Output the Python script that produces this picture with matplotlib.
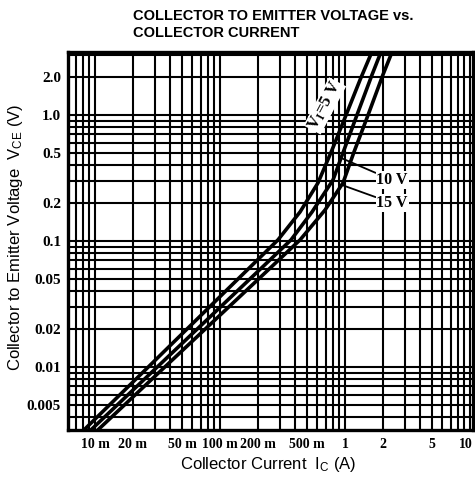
import matplotlib
matplotlib.use("Agg")
import matplotlib.pyplot as plt
from matplotlib.ticker import LogLocator, NullFormatter, FixedLocator, FixedFormatter
from matplotlib.transforms import ScaledTranslation

plt.rcParams['mathtext.fontset'] = 'custom'
plt.rcParams['mathtext.rm'] = 'Liberation Sans'
plt.rcParams['mathtext.it'] = 'Liberation Sans'
plt.rcParams['mathtext.bf'] = 'Liberation Serif:bold'

# ---- data ----
ic_5v = [0.00745, 0.00847, 0.0267, 0.1419, 0.291, 0.437, 0.608, 0.787, 1.02, 1.32, 1.64, 1.74]
vce_5v = [0.00289, 0.00328, 0.010, 0.0508, 0.102, 0.170, 0.289, 0.527, 1.0, 1.90, 3.16, 3.59]

ic_10v = [0.00841, 0.00964, 0.0315, 0.1767, 0.370, 0.545, 0.802, 0.982, 1.247, 1.644, 1.94, 2.05]
vce_10v = [0.00289, 0.00328, 0.010, 0.0508, 0.102, 0.170, 0.305, 0.527, 1.0, 2.08, 3.16, 3.59]

ic_15v = [0.00957, 0.01096, 0.0362, 0.2074, 0.437, 0.692, 0.964, 1.18, 1.53, 2.01, 2.38, 2.51]
vce_15v = [0.00289, 0.00328, 0.010, 0.0508, 0.102, 0.176, 0.289, 0.508, 1.0, 2.08, 3.16, 3.59]

x_ticks = [0.01, 0.02, 0.05, 0.1, 0.2, 0.5, 1, 2, 5, 10]
x_tick_labels = ["10 m", "20 m", "50 m", "100 m", "200 m", "500 m", "1", "2", "5", "10"]
y_ticks = [0.005, 0.01, 0.02, 0.05, 0.1, 0.2, 0.5, 1.0, 2.0]
y_tick_labels = ["0.005", "0.01", "0.02", "0.05", "0.1", "0.2", "0.5", "1.0", "2.0"]

title_lines = "COLLECTOR TO EMITTER VOLTAGE vs.\nCOLLECTOR CURRENT"

# ---- figure ----
fig = plt.figure(figsize=(4.75, 4.78), dpi=100)
ax = fig.add_axes([68/475, 48/478, 405/475, 378/478])
ax.set_xscale('log')
ax.set_yscale('log')
ax.set_xlim(0.00608, 10.57)
ax.set_ylim(0.00316, 3.16)

ax.xaxis.set_major_locator(FixedLocator(x_ticks))
ax.xaxis.set_major_formatter(FixedFormatter(x_tick_labels))
ax.yaxis.set_major_locator(FixedLocator(y_ticks))
ax.yaxis.set_major_formatter(FixedFormatter(y_tick_labels))
ax.xaxis.set_minor_locator(LogLocator(base=10, subs='all', numticks=50))
ax.yaxis.set_minor_locator(LogLocator(base=10, subs='all', numticks=50))
ax.xaxis.set_minor_formatter(NullFormatter())
ax.yaxis.set_minor_formatter(NullFormatter())

ax.grid(which='both', color='black', linewidth=1.5)
ax.set_axisbelow(True)
ax.tick_params(which='both', length=0)
ax.tick_params(axis='y', pad=5)
ax.tick_params(axis='x', pad=6)
for lab in ax.get_yticklabels():
    lab.set_fontfamily('Liberation Serif')
    lab.set_fontweight('bold')
    lab.set_fontsize(11)
xlabs = ax.get_xticklabels()
for lab in xlabs:
    lab.set_fontfamily('Liberation Serif')
    lab.set_fontweight('bold')
    lab.set_fontsize(10)
# last label sits at the right edge: keep it inside the figure
xlabs[-1].set_horizontalalignment('right')
xlabs[-1].set_transform(xlabs[-1].get_transform() + ScaledTranslation(3/100, 0, fig.dpi_scale_trans))

for s in ax.spines.values():
    s.set_linewidth(2.4)
    s.set_color('black')

for ic, v in [(ic_5v, vce_5v), (ic_10v, vce_10v), (ic_15v, vce_15v)]:
    ax.plot(ic, v, color='black', linewidth=2.6, solid_capstyle='butt',
            solid_joinstyle='round', zorder=3)

bbox_w = dict(facecolor='white', edgecolor='none', pad=0.6)
ax.text(0.69, 1.18, r"V$_{\mathbf{I}}$=5 V", rotation=62, ha='center', va='center',
        fontfamily='Liberation Serif', fontweight='bold', fontsize=12,
        bbox=bbox_w, zorder=2.5)
ax.annotate("10 V", xy=(0.929, 0.456), xytext=(2.38, 0.305), ha='center', va='center',
            fontfamily='Liberation Serif', fontweight='bold', fontsize=11.5,
            bbox=bbox_w, zorder=4,
            arrowprops=dict(arrowstyle='-', color='black', lw=1.3, shrinkA=0, shrinkB=0))
ax.annotate("15 V", xy=(0.946, 0.278), xytext=(2.38, 0.20), ha='center', va='center',
            fontfamily='Liberation Serif', fontweight='bold', fontsize=11.5,
            bbox=bbox_w, zorder=4,
            arrowprops=dict(arrowstyle='-', color='black', lw=1.3, shrinkA=0, shrinkB=0))

ax.set_xlabel(r"Collector Current  I$_{\rm C}$ (A)", fontfamily='Liberation Sans',
              fontsize=12)
ax.xaxis.set_label_coords((268 - 68) / 405, -(455 - 430) / 378)
ax.set_ylabel(r"Collector to Emitter Voltage  V$_{\rm CE}$ (V)", fontfamily='Liberation Sans',
              fontsize=12)
ax.yaxis.set_label_coords(-(68 - 25) / 405, (430 - 237) / 378)

fig.text(133/475, 1 - 9/478, title_lines, ha='left', va='top',
         fontfamily='Liberation Sans', fontweight='bold', fontsize=10.5, linespacing=1.3)

fig.savefig("out.png", dpi=100)
